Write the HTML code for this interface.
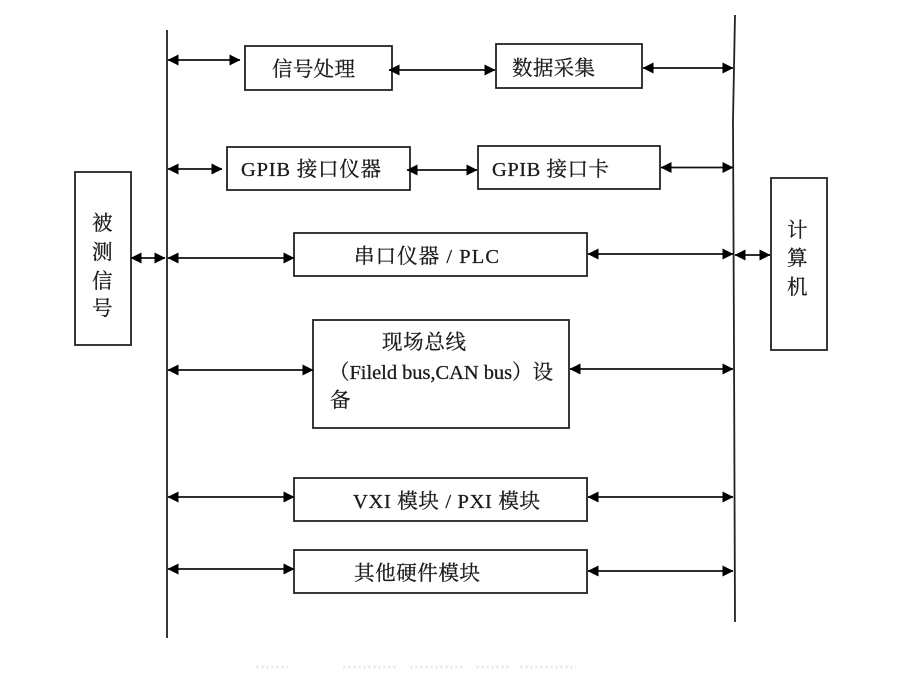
<!DOCTYPE html>
<html><head><meta charset="utf-8"><style>
html,body{margin:0;padding:0;background:#fff}
svg{display:block;filter:blur(.35px)}
text{font-family:"Liberation Serif","Noto Serif CJK SC",serif;fill:#1c1c1c;stroke:#1c1c1c;stroke-width:.3px;font-size:20.5px}
</style></head><body>
<svg width="918" height="680" viewBox="0 0 918 680" xmlns="http://www.w3.org/2000/svg">
<defs>
<marker id="e" viewBox="0 0 11 11" refX="10.5" refY="5.5" markerWidth="11" markerHeight="11" markerUnits="userSpaceOnUse" orient="auto-start-reverse"><path d="M0 0L11 5.5L0 11z" fill="#000"/></marker>
</defs>
<g stroke="#222" stroke-width="1.8" fill="none">
<path d="M167 30V638"/><path d="M735 15L733 120L734 350L735 622"/>
<rect x="245" y="46" width="147" height="44"/>
<rect x="496" y="44" width="146" height="44"/>
<rect x="227" y="147" width="183" height="43"/>
<rect x="478" y="146" width="182" height="43"/>
<rect x="294" y="233" width="293" height="43"/>
<rect x="313" y="320" width="256" height="108"/>
<rect x="294" y="478" width="293" height="43"/>
<rect x="294" y="550" width="293" height="43"/>
<rect x="75" y="172" width="56" height="173"/>
<rect x="771" y="178" width="56" height="172"/>
</g>
<g stroke="#111" stroke-width="1.8">
<path d="M168 60H240" marker-start="url(#e)" marker-end="url(#e)"/>
<path d="M389 70H495" marker-start="url(#e)" marker-end="url(#e)"/>
<path d="M643 68H733" marker-start="url(#e)" marker-end="url(#e)"/>
<path d="M168 169H222" marker-start="url(#e)" marker-end="url(#e)"/>
<path d="M407 170H477" marker-start="url(#e)" marker-end="url(#e)"/>
<path d="M661 167.500H733" marker-start="url(#e)" marker-end="url(#e)"/>
<path d="M131 258H165" marker-start="url(#e)" marker-end="url(#e)"/>
<path d="M168 258H294" marker-start="url(#e)" marker-end="url(#e)"/>
<path d="M588 254H733" marker-start="url(#e)" marker-end="url(#e)"/>
<path d="M735 255H770" marker-start="url(#e)" marker-end="url(#e)"/>
<path d="M168 370H313" marker-start="url(#e)" marker-end="url(#e)"/>
<path d="M570 369H733" marker-start="url(#e)" marker-end="url(#e)"/>
<path d="M168 497H294" marker-start="url(#e)" marker-end="url(#e)"/>
<path d="M588 497H733" marker-start="url(#e)" marker-end="url(#e)"/>
<path d="M168 569H294" marker-start="url(#e)" marker-end="url(#e)"/>
<path d="M588 571H733" marker-start="url(#e)" marker-end="url(#e)"/>
</g>
<g stroke="#eee" stroke-width="3" stroke-dasharray="3 2">
<path d="M256 667H288"/><path d="M343 667H398"/><path d="M410 667H465"/><path d="M476 667H510"/><path d="M520 667H576"/>
</g>
<text x="272" y="76" textLength="83">信号处理</text>
<text x="512" y="75" textLength="83">数据采集</text>
<text x="241" y="176" textLength="140">GPIB 接口仪器</text>
<text x="492" y="176" textLength="117">GPIB 接口卡</text>
<text x="354" y="263" textLength="145">串口仪器 / PLC</text>
<text x="382" y="349" textLength="84">现场总线</text>
<text x="329" y="379" textLength="224">（Fileld bus,CAN bus）设</text>
<text x="330" y="407">备</text>
<text x="353" y="508" textLength="187">VXI 模块 / PXI 模块</text>
<text x="354" y="580" textLength="126">其他硬件模块</text>
<text x="92" y="230">被</text><text x="92" y="259">测</text><text x="92" y="288">信</text><text x="92" y="315">号</text>
<text x="787" y="237">计</text><text x="787" y="265">算</text><text x="787" y="294">机</text>
</svg>
</body></html>
